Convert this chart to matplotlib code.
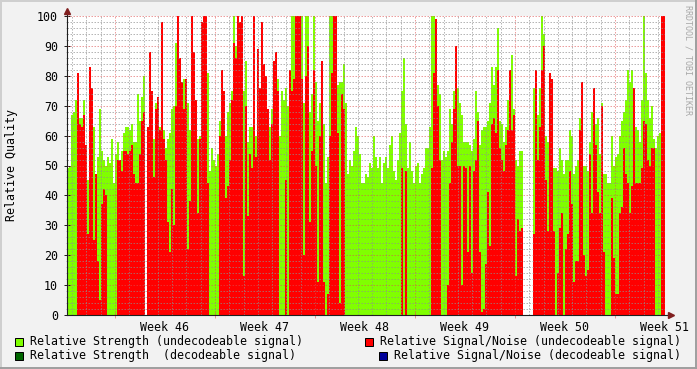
import numpy as np
import matplotlib.pyplot as plt
from matplotlib.patches import Rectangle
from matplotlib.lines import Line2D

# relative strength (green) and signal/noise (red), one value per 3.36 h step
strength = [
    49, 50, 67, 68, 72, 66, 66, 66, 72, 56, 45, 0, 63, 63, 47, 53, 69, 55, 52, 50,
    53, 51, 59, 44, 54, 58, 47, 55, 61, 63, 63, 62, 64, 58, 58, 74, 65, 73, 80, 0,
    63, 60, 59, 59, 71, 56, 63, 60, 62, 56, 59, 61, 69, 70, 91, 75, 70, 75, 79, 73,
    71, 62, 70, 70, 65, 59, 60, 60, 60, 60, 81, 48, 56, 52, 50, 54, 65, 71, 66, 60,
    68, 71, 75, 100, 90, 90, 90, 85, 75, 85, 58, 63, 63, 60, 60, 60, 60, 60, 60, 60,
    60, 63, 69, 70, 70, 79, 60, 75, 72, 76, 70, 70, 100, 100, 100, 100, 100, 100, 71, 100,
    100, 68, 74, 100, 78, 65, 71, 81, 64, 44, 53, 100, 100, 100, 83, 77, 78, 78, 84, 71,
    47, 52, 50, 55, 63, 60, 54, 44, 44, 47, 46, 51, 49, 60, 53, 49, 53, 44, 51, 53,
    49, 57, 60, 48, 45, 52, 61, 75, 86, 64, 49, 58, 48, 44, 50, 51, 44, 47, 49, 56,
    56, 63, 100, 100, 84, 77, 74, 52, 55, 53, 55, 69, 64, 75, 75, 76, 71, 67, 58, 58,
    58, 57, 55, 59, 75, 68, 57, 62, 63, 63, 65, 71, 83, 77, 83, 96, 65, 64, 58, 63,
    72, 70, 87, 69, 52, 50, 55, 55, 0, 0, 0, 0, 0, 76, 62, 67, 76, 100, 94, 60,
    58, 63, 66, 49, 49, 48, 56, 52, 47, 52, 52, 62, 60, 47, 50, 52, 66, 64, 50, 50,
    48, 58, 68, 66, 64, 66, 54, 71, 47, 47, 44, 44, 60, 50, 53, 54, 60, 65, 68, 72,
    82, 78, 82, 75, 63, 62, 58, 72, 100, 81, 72, 66, 70, 59, 56, 60, 61, 93, 100,
]
snr = [
    0, 0, 0, 0, 0, 81, 64, 63, 67, 57, 27, 83, 76, 25, 47, 18, 5, 37, 42, 40,
    0, 0, 0, 0, 0, 52, 52, 48, 55, 55, 54, 55, 57, 47, 44, 44, 54, 65, 68, 0,
    63, 88, 75, 46, 69, 73, 62, 98, 59, 52, 31, 21, 42, 30, 70, 100, 86, 78, 69, 79,
    22, 38, 100, 88, 72, 34, 59, 98, 100, 100, 44, 0, 0, 0, 0, 0, 60, 82, 75, 39,
    43, 52, 72, 91, 86, 100, 98, 100, 13, 70, 33, 54, 49, 100, 53, 89, 76, 98, 84, 80,
    69, 52, 64, 85, 88, 75, 0, 0, 0, 45, 0, 82, 75, 79, 100, 100, 100, 79, 20, 80,
    90, 31, 55, 82, 50, 11, 60, 85, 11, 0, 7, 60, 81, 100, 100, 61, 4, 74, 69, 0,
    0, 0, 0, 0, 0, 0, 0, 0, 0, 0, 0, 0, 0, 0, 0, 0, 0, 0, 0, 0,
    0, 0, 0, 0, 0, 0, 0, 49, 0, 48, 0, 0, 0, 0, 0, 0, 0, 0, 0, 0,
    0, 0, 49, 81, 99, 70, 52, 0, 0, 0, 10, 44, 58, 69, 90, 50, 50, 10, 50, 49,
    21, 50, 14, 48, 52, 65, 21, 1, 2, 17, 41, 23, 64, 66, 61, 82, 56, 52, 48, 57,
    62, 82, 62, 67, 13, 32, 28, 29, 0, 0, 0, 0, 0, 27, 82, 52, 63, 82, 90, 45,
    28, 81, 79, 28, 0, 14, 29, 34, 0, 22, 27, 48, 37, 11, 18, 18, 62, 78, 20, 13,
    15, 54, 34, 76, 57, 41, 34, 70, 21, 0, 0, 0, 39, 19, 7, 7, 34, 36, 56, 47,
    44, 34, 43, 76, 44, 44, 44, 49, 65, 64, 52, 50, 56, 56, 0, 0, 0, 100, 100,
]
week_labels = ['Week 46', 'Week 47', 'Week 48', 'Week 49', 'Week 50', 'Week 51']
legend_items = [
    ('Relative Strength (undecodeable signal)', '#80FF00'),
    ('Relative Signal/Noise (undecodeable signal)', '#FF0000'),
    ('Relative Strength  (decodeable signal)', '#006600'),
    ('Relative Signal/Noise (decodeable signal)', '#000099'),
]
start_day = -3.36   # days relative to monday of week 46
step_days = 0.14

W, H = 697, 369
bg = '#F2F2F2'
grid_col = (0.56, 0.56, 0.56, 0.65)
mgrid_col = (0.87, 0.31, 0.31, 0.55)
axis_col = '#1F1F1F'
arrow_col = '#801F1F'

plt.rcParams['font.family'] = ['DejaVu Sans Mono']
plt.rcParams['font.size'] = 8.35

fig = plt.figure(figsize=(W / 100, H / 100), dpi=100, facecolor=bg)
ax = fig.add_axes([67 / W, 1 - 315 / H, 598 / W, 299 / H])
ax.set_facecolor('white')

edges = start_day + step_days * np.arange(len(strength) + 1)
ax.stairs(strength, edges, fill=True, color=legend_items[0][1], lw=0, zorder=1)
ax.stairs(snr, edges, fill=True, color=legend_items[1][1], lw=0, zorder=2)

ax.set_xlim(edges[0], edges[-1])
ax.set_ylim(0, 100)

# grid on top of the areas, like rrdtool
dash = (0, (1.5, 1.5))
for d in np.arange(np.ceil(edges[0]), edges[-1] + 0.01, 1):
    c = mgrid_col if int(d) % 7 == 0 else grid_col
    ax.axvline(d, color=c, lw=0.72, ls=dash, zorder=3)
for v in range(2, 101, 2):
    c = mgrid_col if v % 10 == 0 else grid_col
    ax.axhline(v, color=c, lw=0.72, ls=dash, zorder=3)

for s in ax.spines.values():
    s.set_visible(False)

ax.set_yticks(range(0, 101, 10))
ax.set_yticks(range(0, 101, 2), minor=True)
ax.tick_params(axis='y', which='major', direction='inout', length=4, width=0.72,
               color=axis_col, pad=4.5)
ax.tick_params(axis='y', which='minor', direction='inout', length=2, width=0.72,
               color=grid_col)

ax.set_xticks(3.5 + 7 * np.arange(len(week_labels)), week_labels)
ax.set_xticks(np.arange(0, edges[-1], 7), minor=True)
ax.tick_params(axis='x', which='major', length=0, pad=4)
ax.tick_params(axis='x', which='minor', direction='inout', length=4, width=0.72,
               color=mgrid_col)

# axes with arrows
ax.plot([0, 0], [0, 1.02], transform=ax.transAxes, color=axis_col, lw=0.8,
        clip_on=False, zorder=5)
ax.plot([0, 1.01], [0, 0], transform=ax.transAxes, color=axis_col, lw=0.8,
        clip_on=False, zorder=5)
ax.plot([0], [1.018], marker='^', ms=5, color=arrow_col, transform=ax.transAxes,
        clip_on=False, zorder=6)
ax.plot([1.01], [0], marker='>', ms=5, color=arrow_col, transform=ax.transAxes,
        clip_on=False, zorder=6)

fig.text(12 / W, 1 - 165 / H, 'Relative Quality', rotation=90, ha='center', va='center')
fig.text(688 / W, 1 - 60 / H, 'RRDTOOL / TOBI OETIKER', rotation=270, ha='center',
         va='center', fontsize=6, color='#A8A8A8')

# legend
legend_pos = [(15, 341.5), (365, 341.5), (15, 355), (379, 355)]
for (label, col), (lx, ly) in zip(legend_items, legend_pos):
    fig.add_artist(Rectangle((lx / W, 1 - (ly + 4.5) / H), 8 / W, 8 / H,
                             transform=fig.transFigure, facecolor=col,
                             edgecolor='black', lw=0.72))
    fig.text((lx + 15) / W, 1 - ly / H, label, ha='left', va='center')

# 3d border
fig.add_artist(Line2D([0, 1], [1 - 1 / H, 1 - 1 / H], transform=fig.transFigure,
                      color='#CFCFCF', lw=1.4))
fig.add_artist(Line2D([1 / W, 1 / W], [0, 1], transform=fig.transFigure,
                      color='#CFCFCF', lw=1.4))
fig.add_artist(Line2D([0, 1], [1 / H, 1 / H], transform=fig.transFigure,
                      color='#9E9E9E', lw=1.4))
fig.add_artist(Line2D([1 - 1 / W, 1 - 1 / W], [0, 1], transform=fig.transFigure,
                      color='#9E9E9E', lw=1.4))

fig.savefig('out.png', dpi=100, facecolor=bg)
